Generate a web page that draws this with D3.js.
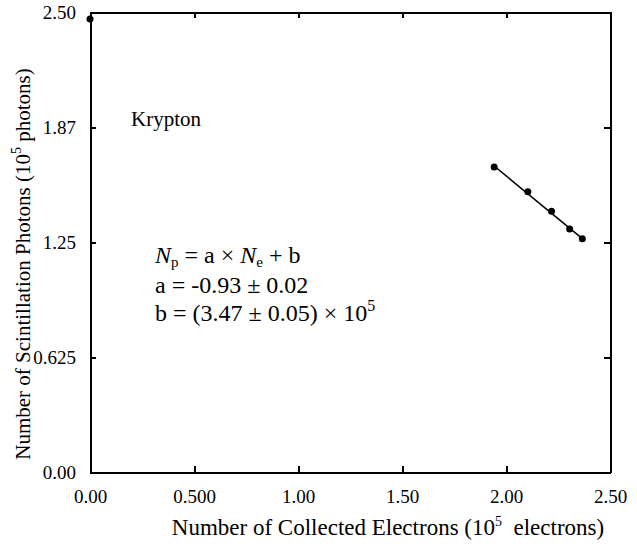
<!DOCTYPE html>
<meta charset="utf-8">
<style>
body { margin: 0; background: #fff; }
svg text { font-family: "Liberation Serif", "Times New Roman", Times, "DejaVu Serif", serif; fill: #000; }
.axis path, .axis line { fill: none; stroke: #000; stroke-width: 2; shape-rendering: crispEdges; }
.axis text { font-size: 19px; }
.title { font-size: 22px; }
.eq { font-size: 24px; }
</style>
<body>
<script src="https://d3js.org/d3.v7.min.js"></script>
<script>

// data (units of 10^5)
var electrons = [0.000, 1.943, 2.105, 2.219, 2.306, 2.367];
var photons   = [2.462, 1.658, 1.523, 1.417, 1.321, 1.268];
var fitA = -0.93, fitB = 3.47;
var fitRange = [1.943, 2.367];
var xTicks = [0, 0.5, 1.0, 1.5, 2.0, 2.5];
var xTickLabels = ["0.00", "0.500", "1.00", "1.50", "2.00", "2.50"];
var yTicks = [0, 0.625, 1.25, 1.875, 2.5];
var yTickLabels = ["0.00", "0.625", "1.25", "1.87", "2.50"];

var margin = {top: 12, right: 27, bottom: 74, left: 90},
    width = 637 - margin.left - margin.right,
    height = 546 - margin.top - margin.bottom;

var x = d3.scaleLinear().domain([0, 2.5]).range([0, width]);
var y = d3.scaleLinear().domain([0, 2.5]).range([height, 0]);

var svg = d3.select("body").append("svg")
    .attr("width", 637).attr("height", 546)
  .append("g")
    .attr("transform", "translate(" + margin.left + "," + margin.top + ")");

// bottom axis, ticks pointing in
svg.append("g").attr("class", "axis")
    .attr("transform", "translate(0," + height + ")")
    .call(d3.axisBottom(x).tickValues(xTicks).tickSizeInner(-6).tickSizeOuter(0).tickPadding(18)
        .tickFormat(function(d, i) { return xTickLabels[i]; }));

// top axis
svg.append("g").attr("class", "axis")
    .call(d3.axisTop(x).tickValues(xTicks).tickSizeInner(-6).tickSizeOuter(0).tickFormat(""));

// left axis
svg.append("g").attr("class", "axis")
    .call(d3.axisLeft(y).tickValues(yTicks).tickSizeInner(-6).tickSizeOuter(0).tickPadding(14)
        .tickFormat(function(d, i) { return yTickLabels[i]; }));

// right axis
svg.append("g").attr("class", "axis")
    .attr("transform", "translate(" + width + ",0)")
    .call(d3.axisRight(y).tickValues(yTicks).tickSizeInner(-6).tickSizeOuter(0).tickFormat(""));

// fit line
var fitLine = d3.line()
    .x(function(d) { return x(d); })
    .y(function(d) { return y(fitA * d + fitB); });
svg.append("path")
    .attr("d", fitLine(fitRange))
    .attr("fill", "none").attr("stroke", "#000").attr("stroke-width", 1.5);

// data points
svg.selectAll(".dot")
    .data(electrons)
  .enter().append("circle")
    .attr("class", "dot")
    .attr("cx", function(d) { return x(d); })
    .attr("cy", function(d, i) { return y(photons[i]); })
    .attr("r", 3.5)
    .attr("fill", "#000");

// labels
svg.append("text").attr("class", "title")
    .attr("x", 41).attr("y", 114)
    .style("font-size", "21px")
    .text("Krypton");

var eq = svg.append("text").attr("class", "eq").attr("x", 65).attr("y", 251);
eq.append("tspan").style("font-style", "italic").text("N");
eq.append("tspan").attr("dy", 4).style("font-size", "15px").text("p");
eq.append("tspan").attr("dy", -4).text(" = a \u00d7 ");
eq.append("tspan").style("font-style", "italic").text("N");
eq.append("tspan").attr("dy", 4).style("font-size", "15px").text("e");
eq.append("tspan").attr("dy", -4).text(" + b");

svg.append("text").attr("class", "eq").attr("x", 65).attr("y", 281)
    .text("a = -0.93 \u00b1 0.02");

var eq3 = svg.append("text").attr("class", "eq").attr("x", 65).attr("y", 309);
eq3.append("tspan").text("b = (3.47 \u00b1 0.05) \u00d7 10");
eq3.append("tspan").attr("dy", -10).style("font-size", "16px").text("5");

// x title
var xt = svg.append("text").attr("class", "title")
    .attr("x", 298).attr("y", height + 63)
    .style("font-size", "23px")
    .attr("text-anchor", "middle");
xt.append("tspan").text("Number of Collected Electrons (10");
xt.append("tspan").attr("dy", -9).style("font-size", "14px").text("5");
xt.append("tspan").attr("dy", 9).text("\u00a0 electrons)");

// y title
var yt = svg.append("text").attr("class", "title")
    .attr("transform", "translate(" + (-60) + "," + 252 + ") rotate(-90)")
    .style("font-size", "21px")
    .attr("text-anchor", "middle");
yt.append("tspan").text("Number of Scintillation Photons (10");
yt.append("tspan").attr("dy", -9).style("font-size", "14px").text("5");
yt.append("tspan").attr("dy", 9).text("\u00a0photons)");

</script>
</body>
